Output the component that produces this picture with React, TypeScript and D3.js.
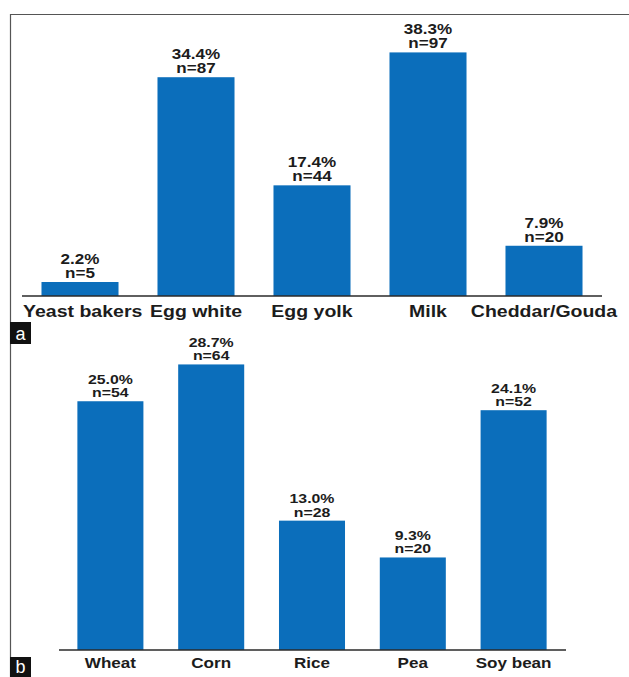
import React from "react";
import * as d3 from "d3";

// Panel a: sensitisation to animal-derived / yeast foods
const catsA = ["Yeast bakers", "Egg white", "Egg yolk", "Milk", "Cheddar/Gouda"];
const pctA = [2.2, 34.4, 17.4, 38.3, 7.9];
const nA = [5, 87, 44, 97, 20];

// Panel b: sensitisation to plant foods
const catsB = ["Wheat", "Corn", "Rice", "Pea", "Soy bean"];
const pctB = [25.0, 28.7, 13.0, 9.3, 24.1];
const nB = [54, 64, 28, 20, 52];

const W = 629;
const H = 677;
const FONT = "'Liberation Sans', Arial, Helvetica, sans-serif";
const BLUE = "#0b6ebb";
const INK = "#1c1c1c";
const STRETCH = 1.22;

let measureCtx: CanvasRenderingContext2D | null = null;
function textWidth(s: string, size: number) {
  if (!measureCtx) measureCtx = document.createElement("canvas").getContext("2d");
  if (!measureCtx) return s.length * size * 0.6;
  measureCtx.font = `bold ${size}px ${FONT}`;
  return measureCtx.measureText(s).width * STRETCH;
}

type PanelProps = {
  cats: string[];
  pct: number[];
  n: number[];
  left: number;
  right: number;
  axisLeft: number;
  axisRight: number;
  baseline: number;
  yMax: number;
  yTop: number;
  padInner: number;
  valueSize: number;
  labelSize: number;
  labelDy: number;
  lineGap: number;
  spread?: boolean;
};

function Panel(p: PanelProps) {
  const x = d3
    .scaleBand<string>()
    .domain(p.cats)
    .range([p.left, p.right])
    .paddingInner(p.padInner)
    .paddingOuter(p.padInner / 2);
  const y = d3.scaleLinear().domain([0, p.yMax]).range([p.baseline, p.yTop]);

  // category label positions: centred under bars, pushed right where they would collide
  const centers = p.cats.map((c) => (x(c) as number) + x.bandwidth() / 2);
  const labelX: number[] = [];
  let prevEnd = -Infinity;
  p.cats.forEach((c, i) => {
    const w = textWidth(c, p.labelSize);
    let start = centers[i] - w / 2;
    if (p.spread) {
      start = Math.max(start, prevEnd + 5, p.axisLeft + 1);
    }
    labelX.push(start + w / 2);
    prevEnd = start + w;
  });

  return (
    <g>
      {p.cats.map((c, i) => (
        <rect
          key={c}
          x={x(c)}
          y={y(p.pct[i])}
          width={x.bandwidth()}
          height={p.baseline - y(p.pct[i])}
          fill={BLUE}
        />
      ))}
      <line
        x1={p.axisLeft}
        x2={p.axisRight}
        y1={p.baseline}
        y2={p.baseline}
        stroke="#2a2a2a"
        strokeWidth={1.5}
      />
      {p.cats.map((c, i) => {
        const cx = centers[i];
        const top = y(p.pct[i]);
        return (
          <g key={c + "v"} fontFamily={FONT} fontWeight="bold" fontSize={p.valueSize} fill={INK}>
            <text
              textAnchor="middle"
              transform={`translate(${cx},${top - 4 - p.lineGap}) scale(${STRETCH},1)`}
            >
              {p.pct[i].toFixed(1)}%
            </text>
            <text textAnchor="middle" transform={`translate(${cx},${top - 4}) scale(${STRETCH},1)`}>
              n={p.n[i]}
            </text>
          </g>
        );
      })}
      {p.cats.map((c, i) => (
        <text
          key={c + "l"}
          textAnchor="middle"
          fontFamily={FONT}
          fontWeight="bold"
          fontSize={p.labelSize}
          fill={INK}
          transform={`translate(${labelX[i]},${p.baseline + p.labelDy}) scale(${STRETCH},1)`}
        >
          {c}
        </text>
      ))}
    </g>
  );
}

function PanelTag({ letter, y, h }: { letter: string; y: number; h: number }) {
  return (
    <g>
      <rect x={10} y={y} width={21} height={h} fill="#111" />
      <text
        x={20.5}
        y={y + h - 4}
        textAnchor="middle"
        fontFamily={FONT}
        fontSize={18}
        fill="#fff"
      >
        {letter}
      </text>
    </g>
  );
}

export default function App() {
  return (
    <svg
      width={W}
      height={H}
      viewBox={`0 0 ${W} ${H}`}
      style={{ position: "absolute", left: 0, top: 0, background: "#fff" }}
    >
      <rect x={0} y={0} width={W} height={H} fill="#fff" />
      {/* figure frame: top and left edges */}
      <path d={`M${W},14.5 H10.5 V${H}`} fill="none" stroke="#555" strokeWidth={1.2} />

      <Panel
        cats={catsA}
        pct={pctA}
        n={nA}
        left={22}
        right={602}
        axisLeft={22}
        axisRight={602}
        baseline={296}
        yMax={40}
        yTop={296 - 254.4}
        padInner={0.336}
        valueSize={14}
        labelSize={16}
        labelDy={21}
        lineGap={14}
        spread
      />
      <PanelTag letter="a" y={322} h={22} />

      <Panel
        cats={catsB}
        pct={pctB}
        n={nB}
        left={60}
        right={564}
        axisLeft={59}
        axisRight={566}
        baseline={650}
        yMax={30}
        yTop={650 - 298.5}
        padInner={0.345}
        valueSize={13}
        labelSize={14}
        labelDy={18}
        lineGap={13.5}
      />
      <PanelTag letter="b" y={657} h={20} />
    </svg>
  );
}
